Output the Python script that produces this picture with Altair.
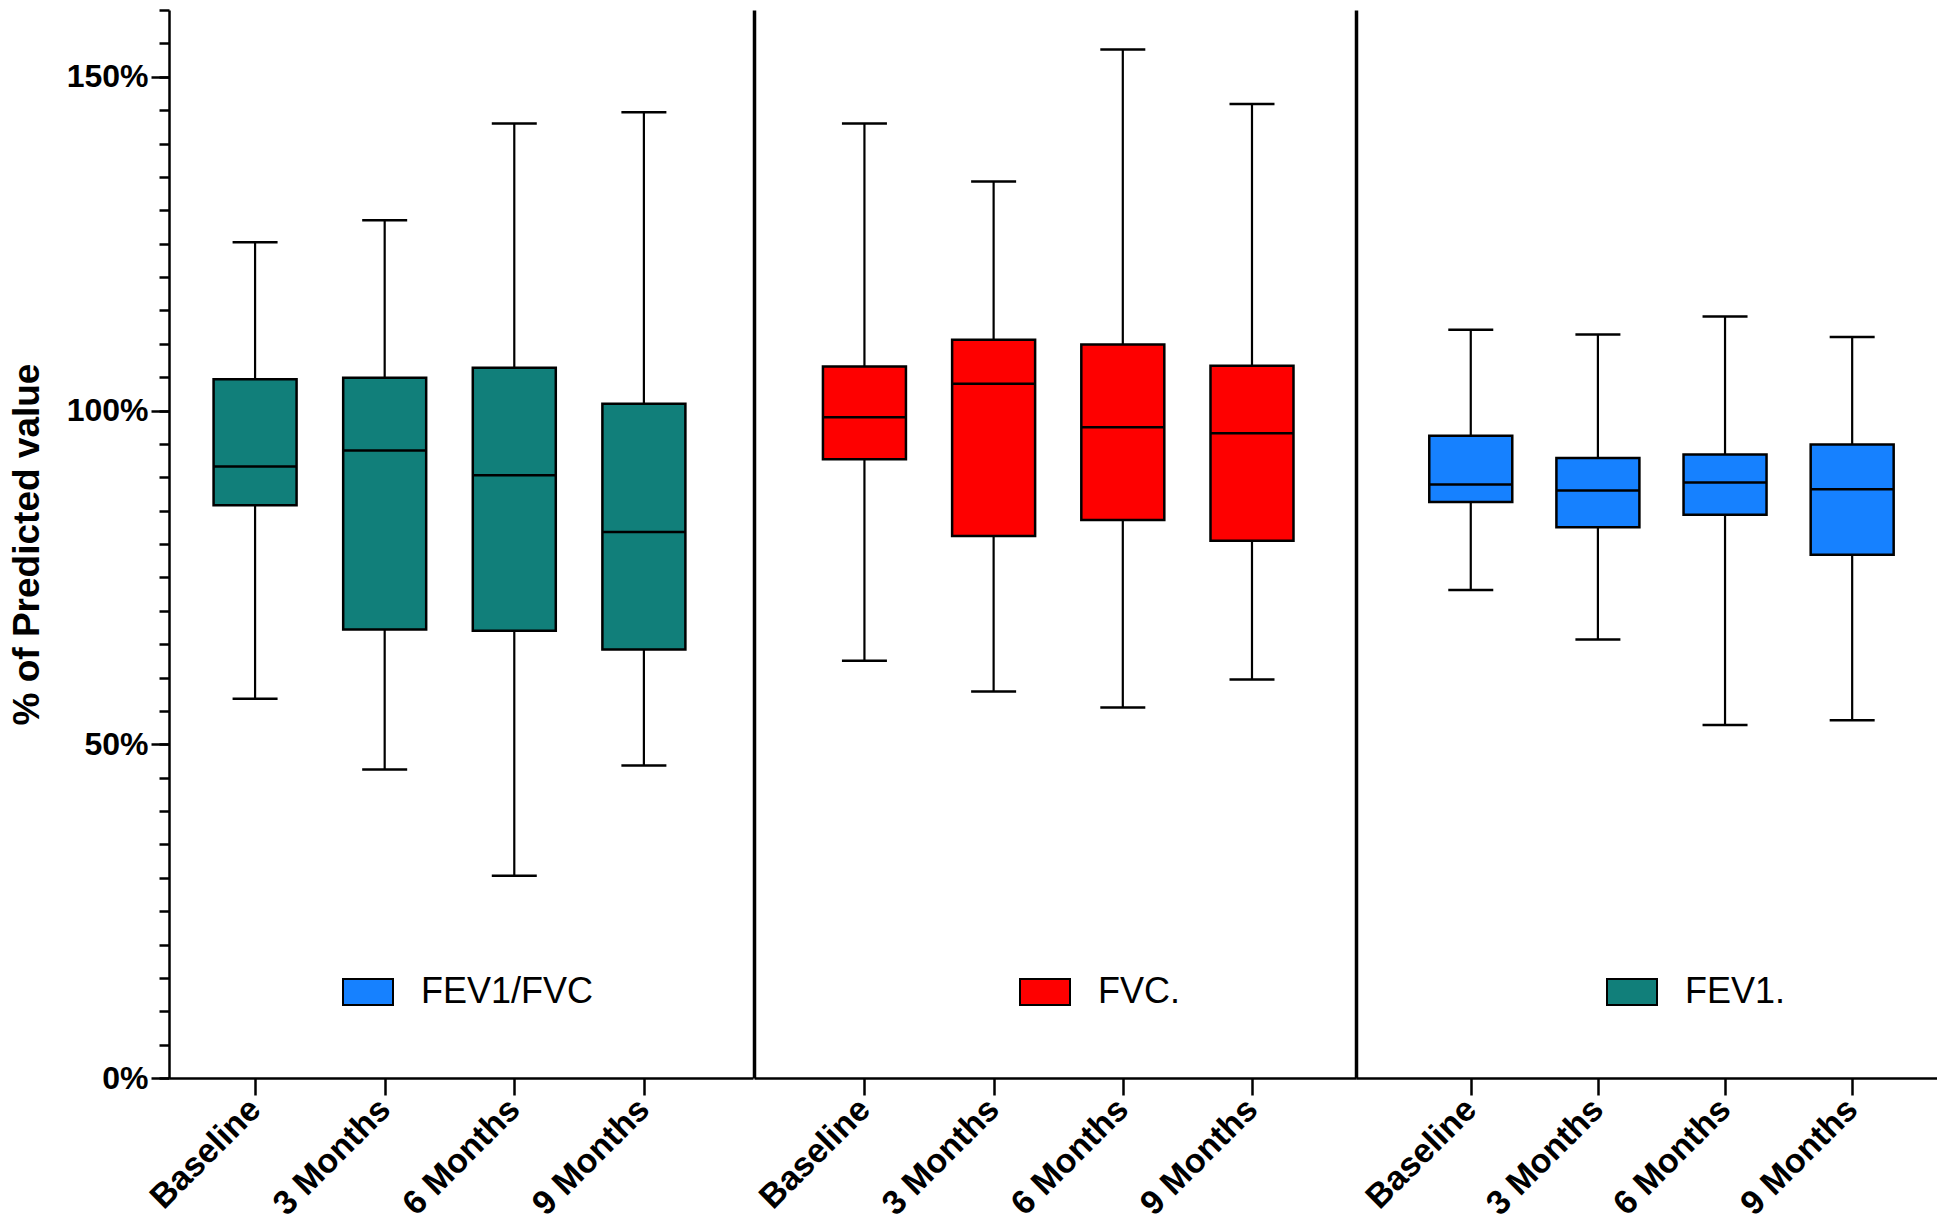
import altair as alt
import pandas as pd

FONT = "Liberation Sans"

timepoints = ["Baseline", "3 Months", "6 Months", "9 Months"]
panel_measures = ["FEV1.", "FVC.", "FEV1/FVC"]
legend_labels = ["FEV1/FVC", "FVC.", "FEV1."]
legend_colors = ["#1681FF", "#FE0000", "#117F7A"]
major_ticks = [0, 50, 100, 150]
minor_ticks = list(range(0, 161, 5))

# FEV1 (teal panel)
fev1_lo = [56.8, 46.2, 30.3, 46.8]
fev1_q1 = [85.8, 67.2, 67.0, 64.2]
fev1_med = [91.6, 94.0, 90.3, 81.8]
fev1_q3 = [104.7, 104.9, 106.4, 101.0]
fev1_hi = [125.2, 128.5, 143.0, 144.7]

# FVC (red panel)
fvc_lo = [62.5, 57.9, 55.5, 59.7]
fvc_q1 = [92.7, 81.2, 83.6, 80.5]
fvc_med = [99.0, 104.0, 97.5, 96.6]
fvc_q3 = [106.6, 110.6, 109.9, 106.7]
fvc_hi = [143.0, 134.3, 154.1, 145.9]

# FEV1/FVC (blue panel)
ratio_lo = [73.1, 65.7, 52.9, 53.6]
ratio_q1 = [86.3, 82.5, 84.4, 78.4]
ratio_med = [88.9, 88.0, 89.2, 88.2]
ratio_q3 = [96.2, 92.9, 93.4, 94.9]
ratio_hi = [112.1, 111.4, 114.1, 111.0]

series = {
    "FEV1.": (fev1_lo, fev1_q1, fev1_med, fev1_q3, fev1_hi),
    "FVC.": (fvc_lo, fvc_q1, fvc_med, fvc_q3, fvc_hi),
    "FEV1/FVC": (ratio_lo, ratio_q1, ratio_med, ratio_q3, ratio_hi),
}

rows = []
for m in panel_measures:
    lo, q1, med, q3, hi = series[m]
    for i, t in enumerate(timepoints):
        rows.append(dict(measure=m, time=t, lo=lo[i], q1=q1[i], med=med[i], q3=q3[i], hi=hi[i]))
df = pd.DataFrame(rows)

H = 1068
yscale = alt.Scale(domain=[0, 160], nice=False, zero=True)

fill_scale = alt.Scale(domain=legend_labels, range=legend_colors)
legend = alt.Legend(
    title=None, orient="none", legendX=173, legendY=956, direction="horizontal",
    columns=3, columnPadding=422, gridAlign="each",
    symbolType="M-1,-0.52H1V0.52H-1Z", symbolSize=2500, symbolStrokeColor="black",
    symbolStrokeWidth=2, symbolOpacity=1, labelFont=FONT, labelFontSize=36,
    labelColor="black", labelOffset=27, labelLimit=400,
)


def panel(idx, width, pad, align, first):
    d = df[df["measure"] == panel_measures[idx]]
    x = alt.X(
        "time:N", sort=timepoints,
        scale=alt.Scale(type="point", padding=pad, align=align),
        axis=alt.Axis(
            title=None, labelAngle=-45, labelAlign="right", labelBaseline="middle",
            labelFont=FONT, labelFontSize=34, labelFontWeight="bold", labelColor="black",
            labelPadding=9, tickSize=17, tickWidth=2.5, tickColor="black",
            domainColor="black", domainWidth=2.5, labelOverlap=False, grid=False,
        ),
    )
    if first:
        yaxis = alt.Axis(
            orient="left", values=major_ticks, labelExpr="datum.value + '%'",
            tickSize=18, tickWidth=2.5, tickColor="black", domainColor="black", domainWidth=2.5,
            labelFont=FONT, labelFontSize=32, labelFontWeight="bold", labelColor="black",
            labelPadding=3, labelOverlap=False, grid=False,
            title="% of Predicted value", titleFont=FONT, titleFontSize=37,
            titleFontWeight="bold", titleColor="black", titlePadding=20,
        )
        minor_axis = alt.Axis(
            orient="left", values=minor_ticks, labels=False, domain=False, title=None,
            tickSize=10, tickWidth=2.5, tickColor="black", grid=False,
        )
    else:
        yaxis = alt.Axis(orient="left", labels=False, ticks=False, title=None,
                         domainWidth=3.5, domainColor="black", grid=False)
        minor_axis = None
    base = alt.Chart(d)
    whisk = base.mark_rule(color="black", strokeWidth=2.2).encode(
        x=x, y=alt.Y("lo:Q", scale=yscale, axis=yaxis), y2="hi:Q")
    box = base.mark_bar(size=83, stroke="black", strokeWidth=2.5, opacity=1).encode(
        x=x, y=alt.Y("q1:Q", scale=yscale, axis=None), y2="q3:Q",
        fill=alt.Fill("measure:N", scale=fill_scale, legend=legend))
    cap_lo = base.mark_tick(color="black", size=45, thickness=2.5, opacity=1).encode(
        x=x, y=alt.Y("lo:Q", scale=yscale, axis=minor_axis))
    cap_hi = base.mark_tick(color="black", size=45, thickness=2.5, opacity=1).encode(
        x=x, y=alt.Y("hi:Q", scale=yscale, axis=None))
    med = base.mark_tick(color="black", size=83, thickness=2.5, opacity=1).encode(
        x=x, y=alt.Y("med:Q", scale=yscale, axis=None))
    return (alt.layer(whisk, box, cap_lo, cap_hi, med)
            .resolve_axis(y="independent")
            .properties(width=width, height=H))


chart = alt.hconcat(
    panel(0, 584, 0.753, 0.441, True),
    panel(1, 602, 0.83, 0.515, False),
    panel(2, 581, 0.785, 0.575, False),
    spacing=0,
).properties(padding=0).configure_view(strokeWidth=0).configure_concat(spacing=0)

chart.save("out.html", embed_options={"renderer": "svg", "actions": False})
